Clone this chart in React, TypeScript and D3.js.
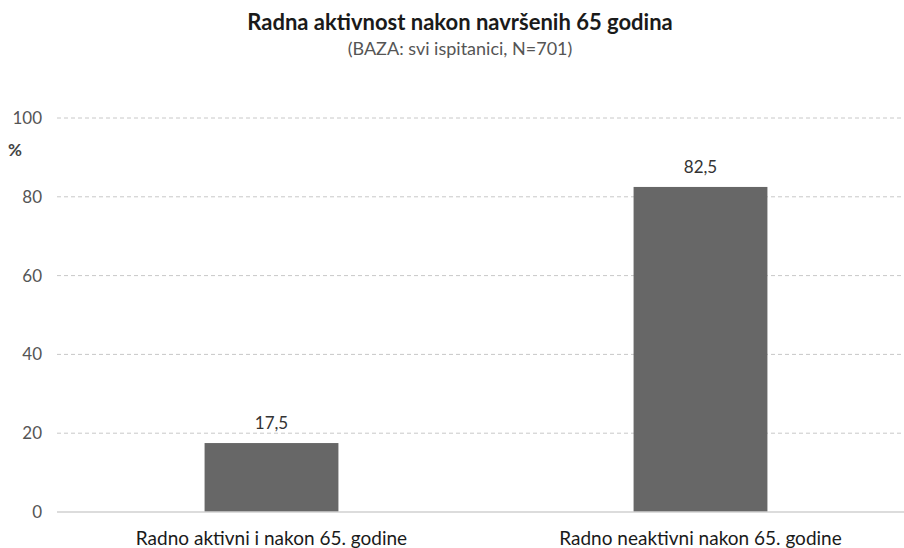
import React from 'react';
import * as d3 from 'd3';

const categories = ['Radno aktivni i nakon 65. godine', 'Radno neaktivni nakon 65. godine'];
const values = [17.5, 82.5];
const yTicks = [0, 20, 40, 60, 80, 100];

const title = 'Radna aktivnost nakon navršenih 65 godina';
const subtitle = '(BAZA: svi ispitanici, N=701)';

export default function App() {
  const width = 904;
  const height = 548;
  const font = 'Lato, "Open Sans", sans-serif';

  // plot area (right side runs past the picture edge, as in the original)
  const x = d3.scaleBand()
    .domain(categories)
    .range([57, 915])
    .paddingInner(0.688)
    .paddingOuter(0.344);

  const y = d3.scaleLinear()
    .domain([0, 100])
    .range([512, 118]);

  const fmt = (v: number) => v.toFixed(1).replace('.', ',');

  return (
    <div style={{ position: 'absolute', left: 0, top: 0 }}>
      <svg width={width} height={height} style={{ display: 'block', background: '#fff' }}>
        <text x={460} y={30} textAnchor="middle" fontFamily={font} fontSize={22} fontWeight="bold" fill="#1a1a1a">
          {title}
        </text>
        <text x={460} y={55} textAnchor="middle" fontFamily={font} fontSize={18} fill="#555">
          {subtitle}
        </text>

        {yTicks.map(t => (
          <g key={t}>
            {t > 0 && (
              <line x1={57} x2={width} y1={y(t)} y2={y(t)} stroke="#c8c8c8" strokeWidth={1} strokeDasharray="4,3" />
            )}
            <text x={42} y={y(t) + 6} textAnchor="end" fontFamily={font} fontSize={17} fill="#555">
              {t}
            </text>
          </g>
        ))}
        <text x={8} y={156} fontFamily={font} fontSize={17} fontWeight="bold" fill="#444">%</text>

        {categories.map((c, i) => (
          <g key={c}>
            <rect x={x(c)} y={y(values[i])} width={x.bandwidth()} height={y(0) - y(values[i])} fill="#676767" />
            <text x={(x(c) ?? 0) + x.bandwidth() / 2} y={y(values[i]) - 14} textAnchor="middle"
              fontFamily={font} fontSize={17} fill="#333">
              {fmt(values[i])}
            </text>
            <text x={(x(c) ?? 0) + x.bandwidth() / 2} y={545} textAnchor="middle"
              fontFamily={font} fontSize={19} fill="#1a1a1a">
              {c}
            </text>
          </g>
        ))}

        <line x1={57} x2={width} y1={y(0)} y2={y(0)} stroke="#d0d0d0" strokeWidth={1.5} />
      </svg>
    </div>
  );
}
